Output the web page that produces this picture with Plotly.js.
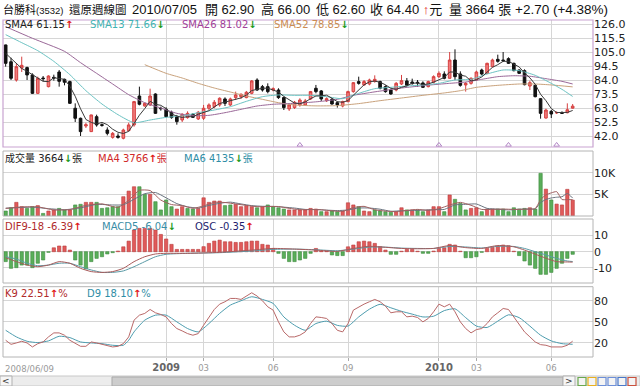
<!DOCTYPE html>
<html><head><meta charset="utf-8">
<script src="https://cdn.plot.ly/plotly-3.0.1.min.js"></script>
<style>html,body{margin:0;padding:0;background:#fff;}#chart{width:640px;height:386px;}</style>
</head><body><div id="chart"></div>
<script>
// ---------- DATA (weekly, 2008/06/09 .. 2010/07/05) ----------
const opens  = [110.3,97.7,84,93,93.3,87.8,74,85.5,79,86, 90,84.5,82.8,62.8,55.3,49.5,45.3,56.5,50.5,46.5, 41,42,40.3,46,50.3,72,64.5,65.3,73.5,62.8, 62,59.8,56.5,54,55.8,58.3,54.8,55.3,62.8,64, 65.3,69.8,65.3,70.8,71.5,70.8,74,84,79,79, 76.5,76.5,70.8,62.3,63.3,65.3,65.3,69.8,77.8,75.8, 68.5,69.5,67,64.5,67.8,75.3,82.8,80.3,81,83, 82.8,79,76.5,76.5,81,83.3,82.5,82.3,81.8,79, 82.3,86.5,88.5,85.3,99,88.5,80.3,81.5,84,91.5, 89,94,99.5,99,100,96.5,91.5,91,79.5,80, 70,55.5,60.5,59.5,59.5,59.5,62.9];
const highs  = [110.5,100.7,96.5,101.5,94,89,86.5,87,87.5,88, 91.5,85,83.5,66.5,55.8,52,58,58,51.5,48.5, 45,44,47.5,52,68.3,79,67,77.5,74,64, 63.5,61,57.8,59,60.5,59,60.8,65.3,66.5,69, 71,71,70.8,75.3,74,75.8,84,85.3,80.3,81.5, 78.5,77.8,71.5,66.5,68.3,70.3,69.8,75.8,80.3,76.5, 71,70.5,68,68.5,76,82.5,86.5,84,85,87.5, 83.5,80,77.5,82.5,87.8,85.5,85,84,83,83.5, 87.5,90.5,90.5,105,107,90.5,82.5,86,91,92.5, 97,100,103,105,101,97,92,92,83.5,80.5, 70.5,62.5,61.5,60.5,60.5,66.5,66];
const lows   = [94,84,82.8,90,84,73.5,73.5,83,78.5,83.5, 79,80,66,52.5,42,48,45,49,49,42.5, 40,40,39.5,45.5,49,65,64,64.5,58.5,61, 56,55,50.5,52.5,55,55.5,54,54,61.5,62.8, 64,64.5,64.5,69,69.8,70.3,73.3,75.8,75.3,74, 75.5,69.8,61.5,60.8,62.3,64,64.8,69,74,68.3, 67.5,65.5,63.3,63.5,67.3,74.5,80.5,79.5,80,82, 77,74.5,73,75.5,80.3,79,80.5,79,78,78.5, 81.5,85.5,84.5,85,84,79,75.3,80.5,83.5,87.5, 88.5,93.5,97,97.5,96,90.5,88.5,80,76.5,71, 55,55,55.5,58.5,58.5,59,62.6];
const closes = [96.5,85.3,94,95,87.8,74,85.3,85,87,85.5, 83,82.3,66.5,55.3,45.3,50.5,57.8,50.3,50,44, 44,41,46.5,50.3,67.8,65.8,66.5,72,59,62.5, 56.5,55.8,52.8,58.3,59,56,59.8,62.8,65.3,67.3, 70.3,66.5,69.8,72.8,73.3,74.8,83.3,76.5,76.5,75.3, 77.5,70.8,63.3,65.3,67.3,69,68.3,75.3,75.3,69.8, 70,66,65.3,67.8,75.3,82,81.5,82.8,84,84.5, 77.8,75.3,73.5,81.5,83.5,80,81.3,81.8,78.5,82.8, 86.5,89,85.3,99,86.5,80,81.5,85.3,90,88.5, 96.5,99,98,98.5,96.5,91,89,80.5,82,71.5, 59,61.5,58.5,59.5,59,61.7,64.4];

const sma4 = [104,100,96,92.7,90.5,87.7,85.5,83,82.8,85.7, 85.1,84.5,79.3,71.8,62.4,54.4,52.2,51,52.2,50.5, 47.1,44.8,43.9,45.5,51.4,57.6,62.6,68,65.8,65, 62.5,58.5,56.9,55.9,56.5,56.5,58.3,59.4,61,63.8, 66.4,67.4,68.5,69.9,70.6,72.7,76.1,77,77.8,77.9, 76.5,75,71.7,69.2,66.7,66.2,67.5,70,72,72.2, 72.6,70.3,67.8,67.3,68.6,72.6,76.7,80.4,82.6,83.2, 82.3,80.4,77.8,77,78.5,79.6,81.6,81.7,80.4,81.1, 82.4,84.2,85.9,90,90,87.7,86.8,83.3,84.2,86.3, 90.1,93.5,95.5,98,98,96,93.8,89.3,85.6,80.8, 73.3,68.5,62.6,59.6,59.6,59.7,61.15];

const sma13Weeks = [0,3,6,9,12,15,18,21,24,27,30,33,36,39,42,45,48,51,54,57,60,63,66,69,72,75,78,81,84,87,90,93,96,99,102,104,106];
const sma13 =      [118,112,106,98,88,76,66,58,52,54,56,57,59.5,61.5,64,68,71.5,72.8,72.5,72.5,71.5,70,74,77.5,78.5,79.5,80.3,81.5,84,84.5,88.5,91.5,91,87.5,81.5,77,71.66];
const sma26Weeks = [0,5,11,14,17,20,23,26,29,32,35,38,41,44,47,50,53,56,59,62,65,68,71,74,77,80,83,86,89,92,95,98,101,104,106];
const sma26 =      [124,115.3,105.5,97,89,81,73,67,63,59,57.3,57.5,59.5,62,64.5,65.8,66.3,67,68,69.5,72.5,74.5,76.3,78,79.3,80.5,81.5,82.5,84.5,86.5,87.2,86.8,85,83,81.02];
const sma52Weeks = [26,30,33,36,39,42,45,48,51,54,58,62,66,70,74,78,82,85,88,92,96,99,102,106];
const sma52 =      [95.5,89,85.5,81.5,78,75,72,69.5,67,65.3,64.6,64.8,66.3,68.5,70.5,72.5,74.3,76,78.5,80,81,81,80.3,78.85];
const eventWeeks = [55,81,94,103];

const volume = [1150,1900,3150,2150,1750,2150,2400,600,1150,1400, 1750,1400,1400,2550,2700,3150,3150,3150,1750,1900, 2150,2150,4450,5750,6750,6750,5000,5000,3300,1400, 3700,2150,1600,2150,1750,1600,1750,4200,3150,3450, 3450,2400,2550,2700,2150,2400,2150,1900,2150,2550, 2150,1900,1600,1400,1400,1400,1400,1750,1600,1000, 1000,1150,1000,1150,3050,2550,2150,1150,1000,1400, 1150,1000,850,1000,1900,1400,1400,1400,1000,1400, 2150,2150,1000,4850,3850,2900,1400,1750,1900,1000, 1600,1600,1600,1600,1000,1900,1600,1750,1900,1600, 9850,6200,3700,2750,2550,6150,3664];
const volUp = [0,0,1,1,0,0,1,0,1,1, 0,0,1,0,0,1,1,0,0,0, 0,0,1,1,1,0,0,1,0,0, 0,0,1,1,0,0,1,1,1,1, 1,0,0,1,1,1,1,0,1,0, 0,0,0,1,1,1,1,1,1,0, 1,0,0,1,1,1,0,1,1,0, 0,0,0,1,1,0,1,0,0,1, 1,1,0,1,0,0,0,1,1,0, 1,1,0,0,0,0,0,0,1,0, 0,1,0,1,1,1,1];
const volMa4Weeks = [0,3,6,9,12,15,18,21,23,25,27,29,31,33,35,37,39,41,43,45,47,49,51,53,55,57,59,61,63,65,67,69,71,73,75,77,79,81,83,85,87,89,91,93,95,97,99,100,101,102,103,104,105,106];
const volMa4 =     [1750,2088,2113,1388,1488,2450,2800,1988,3625,5925,5875,3675,2638,2400,1775,2325,3138,3113,2775,2450,2150,2188,2188,1763,1450,1488,1438,1188,1075,1938,2225,1425,1138,1000,1288,1525,1300,1675,2538,3150,2475,1513,1525,1600,1525,1563,1713,3775,4888,5338,5625,3800,3788,3766];
const volMa6Weeks = [0,5,8,11,14,17,20,22,24,26,28,30,32,34,36,38,40,42,44,46,48,50,52,54,56,58,60,62,64,66,68,70,72,74,76,78,80,82,84,86,88,90,92,94,96,98,99,100,101,102,103,104,105,106];
const volMa6 =     [1800,2042,1700,1450,1867,2683,2542,2592,3858,5142,5425,4192,2858,2125,1833,2433,2933,3200,2783,2392,2242,2217,2042,1833,1517,1492,1358,1250,1392,1842,1842,1567,1092,1217,1258,1350,1458,1517,2567,2692,2775,1758,1575,1400,1550,1625,1625,3100,3817,4167,4333,4442,5200,4135];

const osc = [-6.1,-10.2,-9.8,-8.2,-8.2,-9.8,-7.1,-5.1,-0.4,2.4, 3.5,3.5,1,-5.1,-8.2,-10.6,-6.1,-4.1,-3.1,-1.4, -0.6,0.4,3,6.5,13.3,14.3,14.3,14.3,13.3,10.6, 7.8,4.5,1.4,1.4,1.4,1.4,1.4,3.1,5.1,6.5, 7.1,6.1,6.1,5.7,5.7,6.1,6.5,6.5,4.5,4.1, 2,-1,-4.1,-6.1,-6.1,-5.1,-4.1,-1,2,0.5, 0.4,-2,-2.4,-2.4,3,4.1,6.1,6.5,6.1,5.1, 3.1,1,-1.6,-1.6,0.3,1.4,1.4,0.3,-1,-1, 0.4,2,2.4,4.5,4.1,0.3,-3.7,-3.7,-3.1,-0.4, 2,2.7,3.5,4.1,3.7,0.3,-2.4,-5.7,-8.2,-10.2, -13.9,-13.9,-12.7,-10.2,-7.1,-4.1,-1.6];
const difWeeks = [0,2,4,6,8,10,12,14,16,18,20,22,24,26,28,30,34,40,46,50,54,58,62,65,68,71,74,77,80,83,86,89,92,95,97,99,101,103,105,106];
const dif =      [-3.7,-6.1,-8.2,-9.2,-8.2,-6.1,-7.1,-10.2,-12.2,-12.7,-12.2,-10.2,-6.1,-3.1,-1.4,-1,-1,-0.4,1,2,1.6,1,0.2,2,3.3,2.7,2,1.8,2,3.8,2.5,2,3.8,3,1,-1.5,-4,-6.1,-6.3,-6.39];
const macdWeeks = [0,2,4,6,8,10,12,14,16,18,20,22,24,26,28,30,34,40,46,50,54,58,62,65,68,71,74,77,80,83,86,89,92,95,97,99,101,103,105,106];
const macd =      [-3.1,-4.5,-7.1,-8.6,-8.2,-7.1,-7.1,-9.2,-11.2,-12.7,-12.7,-11.8,-9.2,-6.1,-3.1,-1.6,-1,-0.6,0.4,1.4,1.6,1.2,0.6,1.6,2.8,2.8,2.2,2,2,3.2,2.9,2.3,3.3,3.2,2,0,-2,-4.1,-5.7,-6.04];

const k9 = [23.8,18,20,22.4,20,14.3,19,21.4,28.6,34.3, 34.3,31,23.8,19,15.2,15.2,21.4,20,18,16.7, 14.3,15.2,19,28.6,52.4,59.5,62,67.6,62.9,60.5, 57,47.6,40.5,37.1,33.3,31,33.3,45.2,57.1,67.6, 75.2,78.6,83.3,83.3,81.9,86.7,91.4,86.7,80,71.4, 66.7,50,35.7,28.6,28.6,31,35.7,47.6,57.1,56.2, 54.8,47.6,38,35.7,47.6,66.7,71.4,75.2,78.6,81.9, 78.6,72.4,62.9,64.3,64.3,57.1,58.1,56.2,50,54.8, 64.3,75.2,71.4,75.2,64.3,50,40.5,34.3,39,40.5, 47.6,57.1,62.9,69,67.6,57.1,47.6,35.7,28.6,21.4, 17.6,16.7,14.3,14.3,14.3,16.7,22.51];
const d9Weeks = [0,2,4,6,8,10,12,14,16,18,20,22,23,24,26,28,30,32,34,36,38,40,42,44,46,48,50,52,54,56,58,60,62,64,66,68,70,72,74,76,78,80,82,84,86,88,90,92,94,96,98,100,102,104,106];
const d9 =      [38,28.6,22.4,20.5,22.9,29.5,27.6,21.4,20,19,16.7,16.7,23.8,35.7,52.4,59.5,59.5,50,40.5,35.7,47.6,62,73.8,80,85.7,81.9,76.2,57,45.2,38,47.6,51,45,44,57,68,75,70,65,61,57,58,66,68.5,56,44,42,51,60,56,44,31,22.9,19,18.1];

const priceTicks = [42,52.5,63,73.5,84,94.5,105,115.5,126];
const volTicks = [5000,10000], volTickLabels = ['5K','10K'];
const macdTicks = [-10,0,10];
const kdTicks = [20,50,80];
const monthTickWeeks = [30,37,50,64,81,88,102];
const monthTickLabels = ['2009','03','06','09','2010','03','06'];
const startLabel = '2008/06/09';

// ---------- BUILD ----------
const idx = closes.map((_, i) => i);
const UP = '#e05a5a', DN = '#5aae5a';
const px = X => (X - 3) / 590, py = Y => (357 - Y) / 337;
const FONT = 'DejaVu Sans, Noto Sans CJK TC, sans-serif';
const HFONT = 'Liberation Sans, Arial, Noto Sans CJK TC, sans-serif';
const upA = '<b><span style="color:#e01818">↑</span></b>', dnA = '<b><span style="color:#1a9a1a">↓</span></b>';

const traces = [
  {type:'candlestick', x:idx, open:opens, high:highs, low:lows, close:closes, xaxis:'x', yaxis:'y',
   increasing:{line:{color:'#d64040',width:1}, fillcolor:'#f07c7c'},
   decreasing:{line:{color:'#111',width:1}, fillcolor:'#111'}, whiskerwidth:0, hoverinfo:'skip'},
  {type:'scatter', mode:'lines', x:sma52Weeks, y:sma52, xaxis:'x', yaxis:'y', line:{color:'#c9a27c',width:1,shape:'spline',smoothing:0.6}},
  {type:'scatter', mode:'lines', x:sma26Weeks, y:sma26, xaxis:'x', yaxis:'y', line:{color:'#9a6898',width:1,shape:'spline',smoothing:0.6}},
  {type:'scatter', mode:'lines', x:sma13Weeks, y:sma13, xaxis:'x', yaxis:'y', line:{color:'#6cc3c3',width:1,shape:'spline',smoothing:0.6}},
  {type:'scatter', mode:'lines', x:idx, y:sma4, xaxis:'x', yaxis:'y', line:{color:'#3a3a3a',width:1}},
  {type:'scatter', mode:'markers', x:eventWeeks, y:eventWeeks.map(() => 35.3), xaxis:'x', yaxis:'y',
   marker:{symbol:'triangle-up-open', size:5, color:'#b084c4', line:{width:1}}},
  {type:'bar', x:idx, y:volume, xaxis:'x2', yaxis:'y2', width:0.62,
   marker:{color:volUp.map(u => u ? UP : DN), line:{color:volUp.map(u => u ? '#b83a3a' : '#3d8a3d'), width:0.6}}},
  {type:'scatter', mode:'lines', x:volMa6Weeks, y:volMa6, xaxis:'x2', yaxis:'y2', line:{color:'#6a7480',width:1,shape:'spline',smoothing:0.5}},
  {type:'scatter', mode:'lines', x:volMa4Weeks, y:volMa4, xaxis:'x2', yaxis:'y2', line:{color:'#a06060',width:1,shape:'spline',smoothing:0.5}},
  {type:'bar', x:idx, y:osc, xaxis:'x3', yaxis:'y3', width:0.62,
   marker:{color:osc.map(v => v >= 0 ? UP : DN), line:{color:osc.map(v => v >= 0 ? '#b83a3a' : '#3d8a3d'), width:0.6}}},
  {type:'scatter', mode:'lines', x:macdWeeks, y:macd, xaxis:'x3', yaxis:'y3', line:{color:'#5a9aa6',width:1,shape:'spline',smoothing:0.6}},
  {type:'scatter', mode:'lines', x:difWeeks, y:dif, xaxis:'x3', yaxis:'y3', line:{color:'#a85a5a',width:1,shape:'spline',smoothing:0.6}},
  {type:'scatter', mode:'lines', x:d9Weeks, y:d9, xaxis:'x4', yaxis:'y4', line:{color:'#4d9cae',width:1,shape:'spline',smoothing:0.6}},
  {type:'scatter', mode:'lines', x:idx, y:k9, xaxis:'x4', yaxis:'y4', line:{color:'#b86868',width:1}}
];

const GRID = '#d6d6d6';
const xBase = {range:[-0.5,109.8], tickvals:monthTickWeeks, showgrid:true, gridcolor:GRID, gridwidth:1,
  zeroline:false, showline:false, fixedrange:true};
const yBase = {side:'right', showgrid:true, gridcolor:GRID, zeroline:false, showline:false, ticks:'',
  tickfont:{family:FONT, size:11, color:'#222'}, fixedrange:true};

const ann = [];
function addText(X, Y, text, color, size, family) {
  ann.push({xref:'paper', yref:'paper', x:px(X), y:py(Y), xanchor:'left', yanchor:'middle', showarrow:false,
    text:text, font:{family:family || FONT, size:size || 10, color:color}});
}
// header
addText(1, 9, '台勝科<span style="font-size:9.5px">(3532)</span>', '#111', 11, HFONT);
addText(67, 9, '還原週線圖', '#111', 11.5, HFONT);
addText(130, 9, '2010/07/05', '#111', 13, HFONT);
addText(203, 9, '開 62.90', '#111', 13, HFONT);
addText(259, 9, '高 66.00', '#111', 13, HFONT);
addText(314, 9, '低 62.60', '#111', 13, HFONT);
addText(368, 9, '收 64.40 ' + upA + '元', '#111', 13, HFONT);
addText(447, 9, '量 3664 張', '#111', 13, HFONT);
addText(513, 9, '+2.70 (+4.38%)', '#111', 13.5, HFONT);
// panel legends
addText(3, 25, 'SMA4 61.15' + upA, '#222');
addText(88, 25, 'SMA13 71.66' + dnA, '#3fb3b3');
addText(180, 25, 'SMA26 81.02' + dnA, '#a2409a');
addText(272, 25, 'SMA52 78.85' + dnA, '#cc8c52');
addText(3, 158, '成交量 3664' + dnA + '張', '#222');
addText(96, 158, 'MA4 3766' + upA + '張', '#d02a2a');
addText(182, 158, 'MA6 4135' + dnA + '張', '#2f8ea6');
addText(3, 226, 'DIF9-18 -6.39' + upA, '#b02a2a');
addText(100, 226, 'MACD5 -6.04' + dnA, '#3a8ea6');
addText(193, 226, 'OSC -0.35' + upA, '#1e1e6e');
addText(3, 293, 'K9 22.51' + upA + '%', '#b02a2a');
addText(85, 293, 'D9 18.10' + upA + '%', '#2f8ea6');
addText(3, 369, startLabel, '#9a9a9a', 8.5);
// scrollbar buttons
ann.push({xref:'paper', yref:'paper', x:px(6), y:py(381), xanchor:'center', yanchor:'middle', showarrow:false, text:'<', font:{family:FONT,size:9,color:'#333'}});
ann.push({xref:'paper', yref:'paper', x:px(569), y:py(381), xanchor:'center', yanchor:'middle', showarrow:false, text:'>', font:{family:FONT,size:9,color:'#333'}});

const shapes = [];
function rect(X0, Y0, X1, Y1, fill, line, w) {
  shapes.push({type:'rect', xref:'paper', yref:'paper', x0:px(X0), x1:px(X1), y0:py(Y1), y1:py(Y0),
    fillcolor:fill, line:{color:line || 'rgba(0,0,0,0)', width:w === undefined ? 1 : w}, layer:'above'});
}
rect(3, 20, 593, 147, 'rgba(0,0,0,0)', '#c9a3d1', 1.2);
rect(3, 151, 593, 216, 'rgba(0,0,0,0)', '#b4b4b4', 1);
rect(3, 219, 593, 283, 'rgba(0,0,0,0)', '#b4b4b4', 1);
rect(3, 286.7, 593, 357, 'rgba(0,0,0,0)', '#b4b4b4', 1);
// scrollbar
rect(0, 376, 640, 386, '#ececec', '#c8c8c8', 1);
rect(0, 376, 12, 386, '#f6f6f6', '#b0b0b0', 1);
rect(112, 377, 563, 386, '#cdcdcd', '#a9a9a9', 1);
rect(563, 376, 575, 386, '#f6f6f6', '#b0b0b0', 1);
const iconColors = ['#6aa84f','#e8b020','#6d8fd8','#6d8fd8','#4a78c8','#c9503d'];
iconColors.forEach((c, j) => rect(578 + j * 10, 377.5, 586 + j * 10, 385.5, '#f4f4f4', c, 1.2));

const layout = {
  width:640, height:386, margin:{l:3, r:47, t:20, b:29, pad:0},
  paper_bgcolor:'#fff', plot_bgcolor:'#fff', showlegend:false, hovermode:false,
  xaxis: Object.assign({}, xBase, {anchor:'y', showticklabels:false, ticks:'', rangeslider:{visible:false}}),
  xaxis2: Object.assign({}, xBase, {anchor:'y2', matches:'x', showticklabels:false, ticks:''}),
  xaxis3: Object.assign({}, xBase, {anchor:'y3', matches:'x', showticklabels:false, ticks:''}),
  xaxis4: Object.assign({}, xBase, {anchor:'y4', matches:'x', showticklabels:true, ticks:'outside', ticklen:3, tickcolor:'#aaa',
    ticktext: monthTickLabels.map(t => t.length === 4 ? '<b><span style="color:#666;font-size:10px">' + t + '</span></b>' : t),
    tickfont:{family:FONT, size:8.5, color:'#9a9a9a'}}),
  yaxis: Object.assign({}, yBase, {anchor:'x', domain:[0.6231,1], range:[33.75,129], tickvals:priceTicks, ticktext:priceTicks.map(v => v.toFixed(1))}),
  yaxis2: Object.assign({}, yBase, {anchor:'x2', domain:[0.4184,0.6113], range:[0,15000], tickvals:volTicks, ticktext:volTickLabels}),
  yaxis3: Object.assign({}, yBase, {anchor:'x3', domain:[0.2196,0.4095], range:[-19.2,20.06], tickvals:macdTicks, ticktext:macdTicks.map(String)}),
  yaxis4: Object.assign({}, yBase, {anchor:'x4', domain:[0,0.2086], range:[0,100], tickvals:kdTicks, ticktext:kdTicks.map(String)}),
  annotations: ann, shapes: shapes
};
Plotly.newPlot('chart', traces, layout, {staticPlot:true, displayModeBar:false});
</script>
</body></html>
